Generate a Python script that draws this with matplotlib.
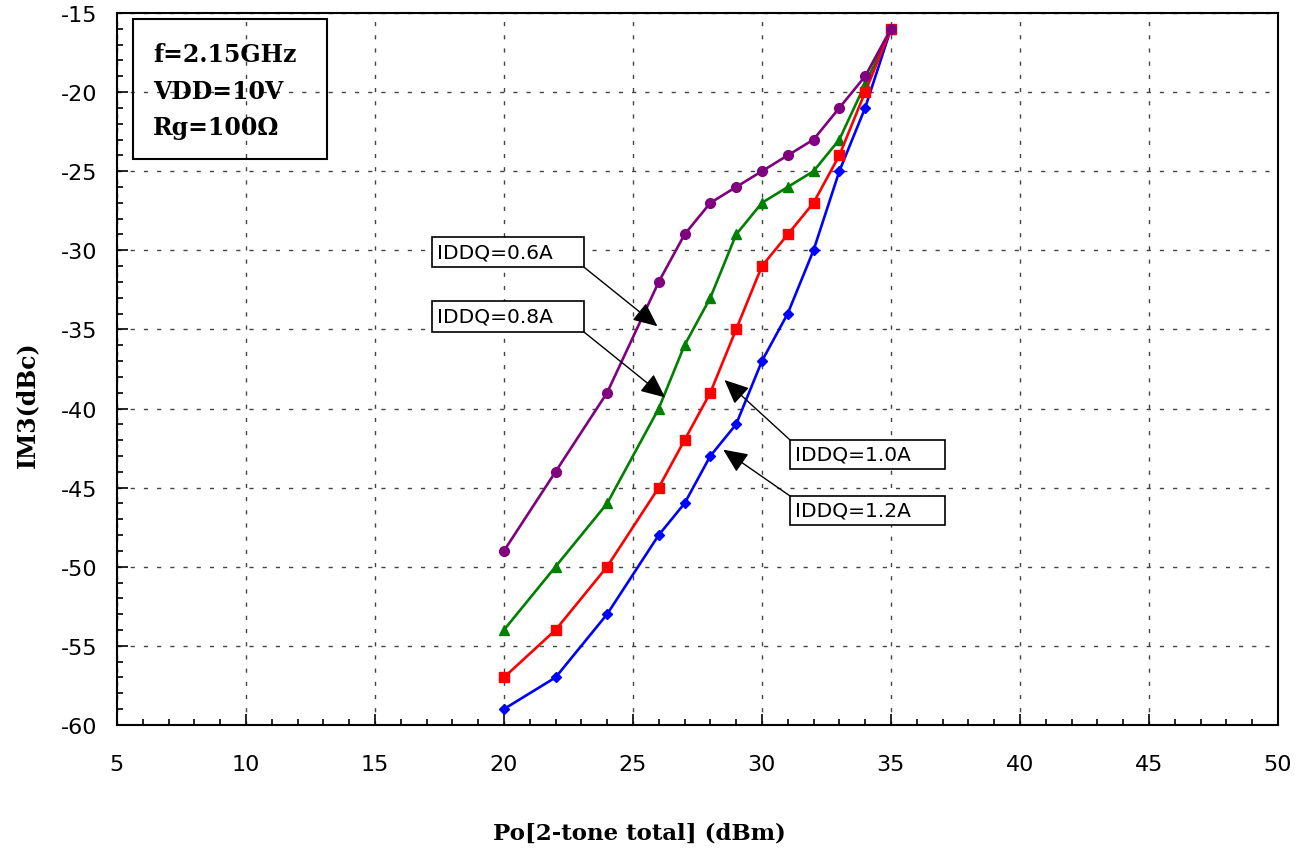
import numpy as np
import matplotlib.pyplot as plt
from matplotlib.patches import Rectangle
from matplotlib.ticker import MultipleLocator

plt.rcParams['axes.unicode_minus'] = False

# output power points (dBm)
po = [20, 22, 24, 26, 27, 28, 29, 30, 31, 32, 33, 34, 35]

# IM3 (dBc) for each quiescent current
im3_06 = [-49, -44, -39, -32, -29, -27, -26, -25, -24, -23, -21, -19, -16]
im3_08 = [-54, -50, -46, -40, -36, -33, -29, -27, -26, -25, -23, -19.5, -16]
im3_10 = [-57, -54, -50, -45, -42, -39, -35, -31, -29, -27, -24, -20, -16]
im3_12 = [-59, -57, -53, -48, -46, -43, -41, -37, -34, -30, -25, -21, -16]

labels = ['IDDQ=0.6A', 'IDDQ=0.8A', 'IDDQ=1.0A', 'IDDQ=1.2A']
info_lines = ['f=2.15GHz', 'VDD=10V', 'Rg=100Ω']

fig = plt.figure(figsize=(13.08, 8.54), dpi=100)
ax = fig.add_axes([0.0894, 0.150, 0.8876, 0.8336])

ax.plot(po, im3_12, color='#0000ff', lw=1.9, marker='D', ms=5)
ax.plot(po, im3_08, color='#008000', lw=1.9, marker='^', ms=7)
ax.plot(po, im3_10, color='#ff0000', lw=1.9, marker='s', ms=7)
ax.plot(po, im3_06, color='#800080', lw=1.9, marker='o', ms=7)

ax.set_xlim(5, 50)
ax.set_ylim(-60, -15)
ax.xaxis.set_major_locator(MultipleLocator(5))
ax.xaxis.set_minor_locator(MultipleLocator(1))
ax.yaxis.set_major_locator(MultipleLocator(5))
ax.yaxis.set_minor_locator(MultipleLocator(1))
ax.tick_params(which='both', direction='in', width=1.2, labelsize=16)
ax.tick_params(which='major', length=8)
ax.tick_params(which='minor', length=4)
ax.tick_params(axis='y', pad=14)
ax.tick_params(axis='x', pad=21)
for sp in ax.spines.values():
    sp.set_linewidth(1.5)

ax.grid(True, which='major', color='#444444', lw=1.0, linestyle=(0, (3, 6.5)))

ax.set_xlabel('Po[2-tone total] (dBm)', fontsize=16.5, fontweight='bold',
              family='DejaVu Serif', labelpad=34)
ax.set_ylabel('IM3(dBc)', fontsize=17, fontweight='bold',
              family='DejaVu Serif', labelpad=16)
ax.xaxis.label.set_x(0.45)
ax.yaxis.label.set_y(0.451)

# condition box
ax.add_patch(Rectangle((0.0138, 0.795), 0.167, 0.1966, transform=ax.transAxes,
                       fill=False, edgecolor='black', lw=1.5, zorder=5))
for i, line in enumerate(info_lines):
    ax.text(0.031, 0.942 - i * 0.051, line, transform=ax.transAxes,
            fontsize=17, fontweight='bold', family='DejaVu Serif',
            va='center', ha='left', zorder=6)

# label boxes: (x0, x1, y_bottom, y_top), arrow start corner, arrow tip
boxes = [(17.21, 23.10, -31.06, -29.16), (17.21, 23.10, -35.16, -33.20),
         (31.09, 37.09, -43.82, -41.99), (31.09, 37.09, -47.36, -45.53)]
starts = [(23.10, -31.06), (23.10, -35.16), (31.09, -41.99), (31.09, -45.53)]
tips = [(25.95, -34.8), (26.25, -39.3), (28.55, -38.2), (28.5, -42.6)]

arr_kw = dict(arrowstyle='-|>,head_length=0.6,head_width=0.27',
              color='black', lw=1.0, mutation_scale=25,
              shrinkA=0, shrinkB=0)

for lab, (x0, x1, y0, y1), st, tp in zip(labels, boxes, starts, tips):
    ax.add_patch(Rectangle((x0, y0), x1 - x0, y1 - y0, fc='white',
                           ec='black', lw=1.2, zorder=7))
    ax.text(x0 + 0.2, (y0 + y1) / 2, lab, fontsize=14.5, va='center',
            ha='left', zorder=8)
    ax.annotate('', xy=tp, xytext=st, arrowprops=arr_kw, zorder=8)

fig.savefig('out.png', dpi=100)
